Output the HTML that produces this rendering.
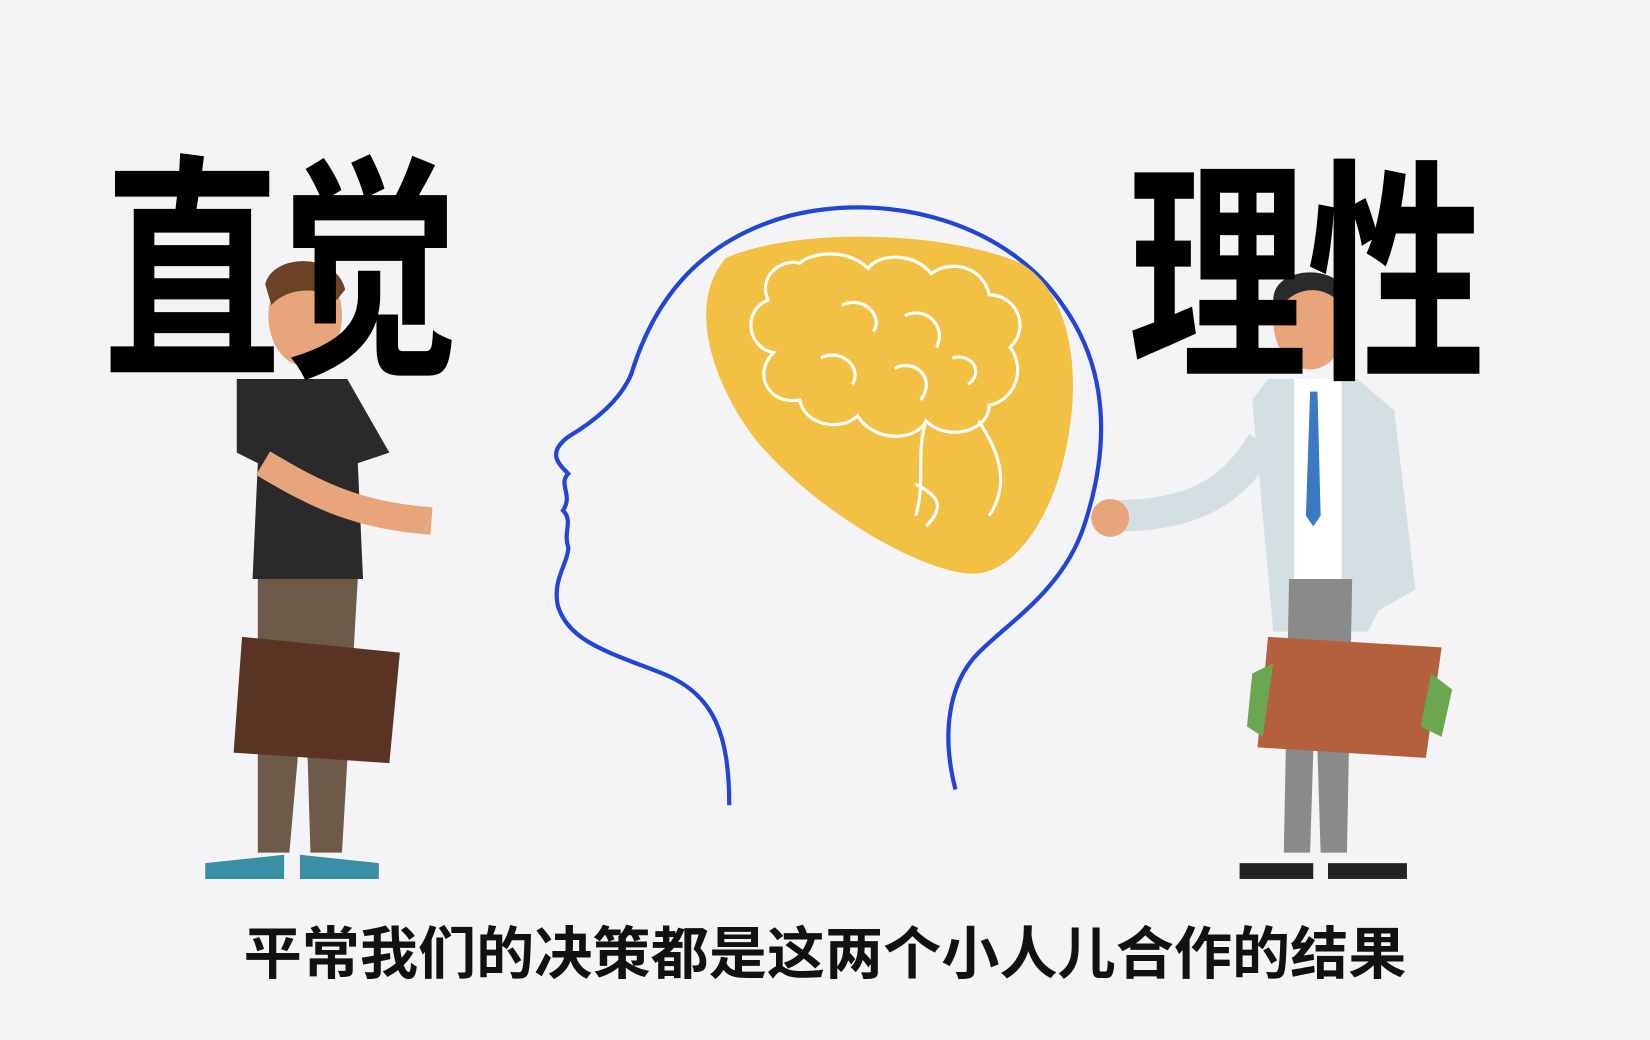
<!DOCTYPE html>
<html><head><meta charset="utf-8"><style>
html,body{margin:0;padding:0;background:#f4f4f6;}
svg{display:block;}
text{font-family:"Liberation Sans","Noto Sans CJK SC",sans-serif;}
</style></head><body>
<svg width="1650" height="1040" viewBox="0 0 1568 988" preserveAspectRatio="none">
<rect width="1568" height="988" fill="#f4f4f6"/>
<path d="M693 765 C693 700 680 660 630 640 C580 620 540 610 530 575 C525 550 540 535 540 520 C535 505 545 495 535 485 C545 470 530 460 540 450 C530 440 520 430 540 415 C565 400 590 380 600 355 C620 290 660 230 750 205 C850 180 960 215 1010 290 C1060 360 1050 440 1030 500 C1010 560 960 590 930 620 C900 650 895 700 908 750" fill="none" stroke="#2146d6" stroke-width="4"/>
<path d="M690 245 C760 215 900 220 970 250 C1020 280 1030 360 1010 440 C995 500 960 545 925 545 C880 545 780 490 720 420 C680 370 650 290 690 245 Z" fill="#f2c043"/>
<g fill="none" stroke="#fff" stroke-width="3">
<path d="M760 250 C740 245 720 265 730 285 C705 295 710 330 735 335 C715 355 730 385 760 380 C765 405 800 410 815 395 C830 420 870 420 880 400 C900 420 940 410 940 385 C965 380 975 350 960 330 C980 310 965 280 940 280 C935 255 905 245 885 260 C870 240 835 240 825 255 C805 235 770 240 760 250 Z"/>
<path d="M800 290 C820 280 840 300 830 315 M860 300 C880 290 900 310 890 330 M780 340 C800 330 820 350 810 365 M850 350 C870 340 890 360 875 380 M905 340 C925 335 935 355 920 365"/>
<path d="M880 400 C870 430 880 460 870 490 M930 400 C950 430 960 460 940 490 M870 460 C890 470 900 480 880 500"/>
</g>
<g>
<path d="M225 360 L330 360 L370 430 L340 440 L345 550 L240 550 L245 440 L225 430 Z" fill="#2a2a2a"/>
<path d="M245 550 L340 550 L325 810 L295 810 L290 640 L275 810 L245 810 Z" fill="#6e5a48"/>
<ellipse cx="290" cy="300" rx="35" ry="48" fill="#e8a47a"/>
<path d="M252 270 C260 240 320 240 328 275 L320 285 C300 270 270 275 258 290 Z" fill="#6b4226"/>
<path d="M250 440 C300 470 340 490 410 495" stroke="#e8a47a" stroke-width="26" fill="none"/>
<path d="M230 605 L380 620 L370 725 L222 715 Z" fill="#5a3324"/>
<path d="M195 820 L270 812 L270 835 L195 835 Z M285 812 L360 820 L360 835 L285 835 Z" fill="#3a8fa6"/>
</g>
<g>
<path d="M1205 360 L1290 360 L1325 390 L1345 560 L1310 580 L1300 600 L1210 600 L1190 380 Z" fill="#d4dfe3"/>
<rect x="1230" y="360" width="45" height="190" fill="#fff"/>
<path d="M1245 372 L1252 372 L1255 490 L1248 500 L1241 490 Z" fill="#3a7ac2"/>
<path d="M1225 550 L1285 550 L1280 810 L1255 810 L1250 650 L1245 810 L1220 810 Z" fill="#8a8a8a"/>
<ellipse cx="1245" cy="305" rx="35" ry="46" fill="#e8a47a"/>
<path d="M1210 285 C1210 250 1280 250 1280 285 L1275 290 C1260 270 1230 270 1215 295 Z" fill="#2a2a2a"/>
<path d="M1200 420 C1170 470 1130 490 1060 490" stroke="#d4dfe3" stroke-width="30" fill="none"/>
<circle cx="1055" cy="492" r="18" fill="#e8a47a"/>
<path d="M1205 605 L1370 615 L1355 720 L1195 710 Z" fill="#b5603c"/>
<path d="M1190 640 L1210 630 L1200 700 L1185 690 Z M1360 640 L1380 655 L1370 700 L1350 690 Z" fill="#6aa84f"/>
<rect x="1178" y="820" width="70" height="15" fill="#222"/>
<rect x="1262" y="820" width="75" height="15" fill="#222"/>
</g>
<text x="98" y="340" font-size="228" font-weight="bold" fill="#000" textLength="338" lengthAdjust="spacingAndGlyphs">直觉</text>
<text x="1072" y="342" font-size="225" font-weight="bold" fill="#000" textLength="340" lengthAdjust="spacingAndGlyphs">理性</text>
<text x="784" y="925" text-anchor="middle" font-size="54" font-weight="bold" fill="#111" textLength="1105" lengthAdjust="spacingAndGlyphs">平常我们的决策都是这两个小人儿合作的结果</text>
</svg>
</body></html>
